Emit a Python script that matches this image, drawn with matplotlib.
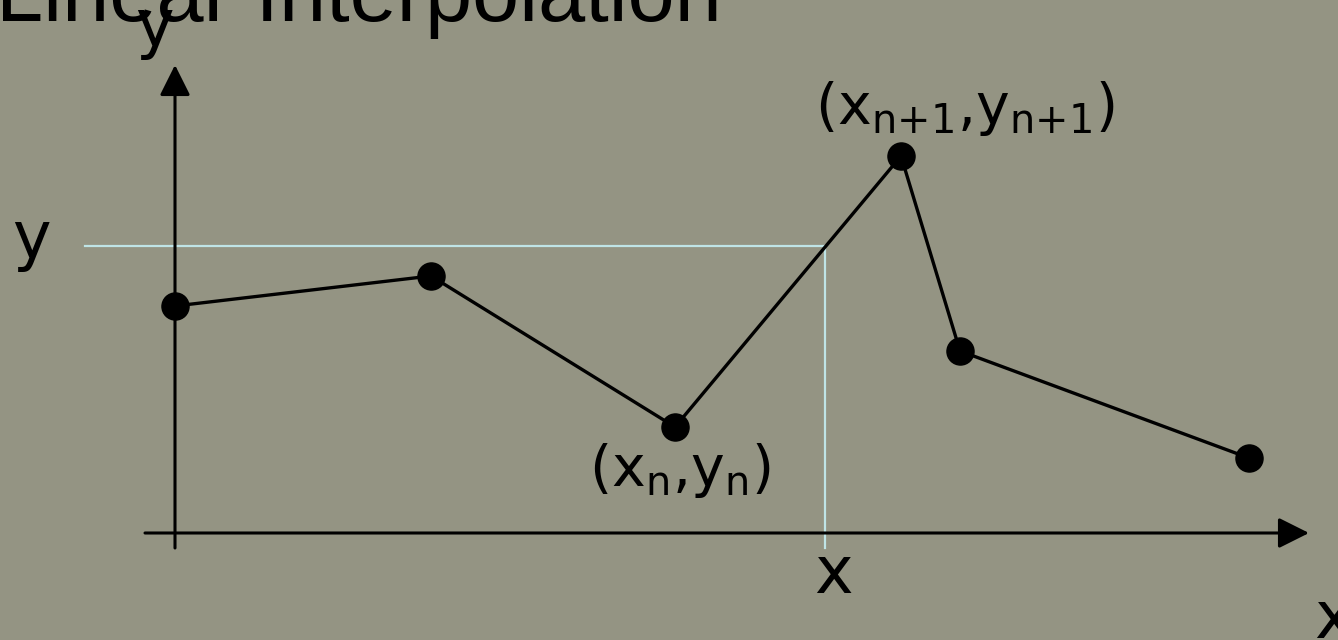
import matplotlib.pyplot as plt

# sample points of the piecewise linear function
xs = [0.0, 2.56, 5.00, 7.26, 7.85, 10.74]
ys = [2.27, 2.57, 1.06, 3.77, 1.82, 0.75]

# query point (x, y) on the segment between points n and n+1
x_query = 6.50
y_query = 2.87

bg = '#949483'
guide = '#bfe4e6'

plt.rcParams['mathtext.fontset'] = 'dejavusans'

fig = plt.figure(figsize=(13.38, 6.4), dpi=100, facecolor=bg)
ax = fig.add_axes([0, 0, 1, 1])
ax.set_facecolor(bg)
ax.set_xlim(-1.75, 11.63)
ax.set_ylim(-1.07, 5.33)
ax.axis('off')

# guide lines to the query point
ax.plot([-0.90, x_query], [y_query, y_query], color=guide, lw=1.6, zorder=1)
ax.plot([x_query, x_query], [y_query, -0.15], color=guide, lw=1.6, zorder=1)

# coordinate axes with arrow heads
arrow = dict(arrowstyle='-|>,head_length=0.4,head_width=0.2', color='black',
             lw=2.2, mutation_scale=47, shrinkA=0, shrinkB=0)
ax.annotate('', xy=(0, 4.68), xytext=(0, -0.15), arrowprops=arrow, zorder=2)
ax.annotate('', xy=(11.34, 0), xytext=(-0.30, 0), arrowprops=arrow, zorder=2)

# the data polyline
ax.plot(xs, ys, color='black', lw=2.4, marker='o', markersize=19.5, zorder=3)

ax.text(-1.79, 5.12, 'Linear Interpolation', fontsize=61, family='Liberation Sans',
        va='baseline', ha='left')

lab = dict(fontsize=47, family='DejaVu Sans', va='baseline', ha='left')
ax.text(-0.40, 4.87, 'y', **lab)
ax.text(-1.63, 2.75, 'y', **lab)
ax.text(6.39, -0.60, 'x', **lab)
ax.text(11.39, -1.05, 'x', **lab)

pt = dict(fontsize=41, family='DejaVu Sans', va='baseline', ha='left')
ax.text(4.14, 0.47, r'$\mathrm{(x_{n}{,}y_{n})}$', **pt)
ax.text(6.40, 4.09, r'$\mathrm{(x_{n{+}1}{,}y_{n{+}1})}$', **pt)

fig.savefig('out.png', dpi=100, facecolor=bg)
